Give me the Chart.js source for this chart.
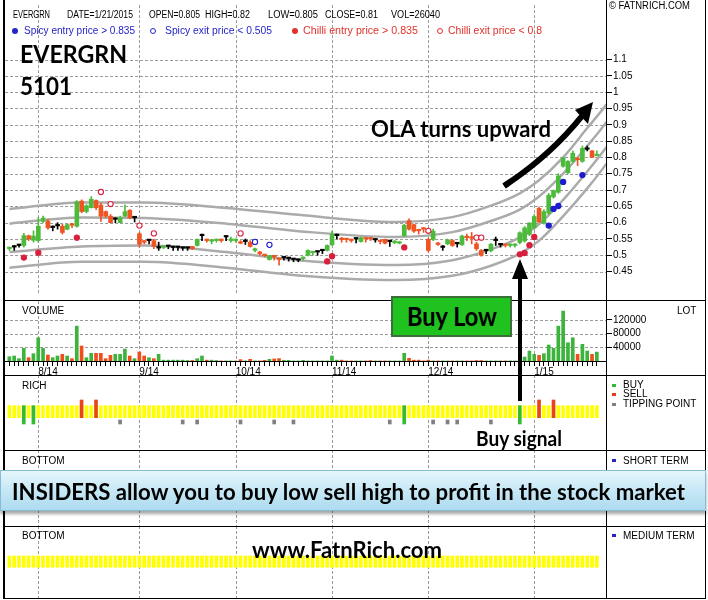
<!DOCTYPE html>
<html>
<head>
<meta charset="utf-8">
<title>EVERGRN 5101</title>
<script src="https://cdn.jsdelivr.net/npm/chart.js@4.4.1/dist/chart.umd.min.js"></script>
<style>
  html, body { margin: 0; padding: 0; background: #fff; }
  #wrap { position: relative; width: 708px; height: 600px; overflow: hidden; font-family: "Liberation Sans", Arial, sans-serif; }
  .pane { position: absolute; left: 0; width: 708px; }
  .pane canvas { display: block; }
  .ln { position: absolute; background: #000; z-index: 3; }
  .t { position: absolute; white-space: nowrap; font-size: 10px; line-height: 12px; color: #000; transform-origin: 0 50%; z-index: 6; }
  .big { font-family: Lato, "Open Sans", sans-serif; font-weight: 700; }
  .blue { color: #2424c8; }
  .red { color: #e0322a; }
  .dot { position: absolute; width: 6px; height: 6px; border-radius: 50%; box-sizing: border-box; z-index: 6; }
  .sq { position: absolute; width: 4px; height: 3px; z-index: 6; }
  #buylow { position: absolute; left: 391px; top: 296px; width: 117px; height: 37px; background: #1fc21f; border: 2px solid #3b6e3b; z-index: 7; }
  #banner { position: absolute; left: 0; top: 470px; width: 704px; height: 39px; border: 1px solid #86bcd4;
            background: linear-gradient(#e6f6fc 0%, #c9e9f6 45%, #addbef 100%); box-shadow: 0 3px 3px rgba(0,0,0,0.35); z-index: 7; }
  svg { position: absolute; left: 0; top: 0; z-index: 8; }
</style>
</head>
<body>
<div id="wrap">
  <div class="pane" style="top:0;height:300px"><canvas id="cPrice" width="708" height="300"></canvas></div>
  <div class="pane" style="top:300px;height:75px"><canvas id="cVol" width="708" height="75"></canvas></div>
  <div class="pane" style="top:375px;height:75px"><canvas id="cRich" width="708" height="75"></canvas></div>
  <div class="pane" style="top:450px;height:76px"><canvas id="cShort" width="708" height="76"></canvas></div>
  <div class="pane" style="top:526px;height:72px"><canvas id="cMed" width="708" height="72"></canvas></div>

  <!-- frame -->
  <div class="ln" style="left:3px;top:0;width:2px;height:599px"></div>
  <div class="ln" style="left:705px;top:0;width:1px;height:599px"></div>
  <div class="ln" style="left:606px;top:0;width:1px;height:599px"></div>
  <div class="ln" style="left:3px;top:300px;width:703px;height:1px"></div>
  <div class="ln" style="left:3px;top:375px;width:703px;height:1px"></div>
  <div class="ln" style="left:3px;top:450px;width:703px;height:1px"></div>
  <div class="ln" style="left:3px;top:526px;width:703px;height:1px"></div>
  <div class="ln" style="left:3px;top:598px;width:703px;height:1px"></div>

  <!-- header -->
  <div class="t" style="left:13px;top:9px" data-w="37">EVERGRN</div>
  <div class="t" style="left:67px;top:9px" data-w="66">DATE=1/21/2015</div>
  <div class="t" style="left:149px;top:9px" data-w="51">OPEN=0.805</div>
  <div class="t" style="left:205px;top:9px" data-w="45">HIGH=0.82</div>
  <div class="t" style="left:268px;top:9px" data-w="50">LOW=0.805</div>
  <div class="t" style="left:325px;top:9px" data-w="53">CLOSE=0.81</div>
  <div class="t" style="left:391px;top:9px" data-w="49">VOL=26040</div>
  <div class="t" style="left:609px;top:0px" data-w="81">&copy; FATNRICH.COM</div>

  <div class="dot" style="left:12px;top:28px;background:#2424c8"></div>
  <div class="t blue" style="left:24px;top:25px" data-w="111">Spicy entry price &gt; 0.835</div>
  <div class="dot" style="left:150px;top:28px;border:1px solid #2424c8;background:#fff"></div>
  <div class="t blue" style="left:165px;top:25px" data-w="107">Spicy exit price &lt; 0.505</div>
  <div class="dot" style="left:292px;top:28px;background:#e0322a"></div>
  <div class="t red" style="left:303px;top:25px" data-w="115">Chilli entry price &gt; 0.835</div>
  <div class="dot" style="left:437px;top:28px;border:1px solid #e0322a;background:#fff"></div>
  <div class="t red" style="left:448px;top:25px" data-w="94">Chilli exit price &lt; 0.8</div>

  <!-- panel labels -->
  <div class="t" style="left:22px;top:305px">VOLUME</div>
  <div class="t" style="left:677px;top:305px">LOT</div>
  <div class="t" style="left:22px;top:380px">RICH</div>
  <div class="sq" style="left:612px;top:384px;background:#33bb33"></div>
  <div class="t" style="left:623px;top:379px">BUY</div>
  <div class="sq" style="left:612px;top:393px;background:#e83a1a"></div>
  <div class="t" style="left:623px;top:388px">SELL</div>
  <div class="sq" style="left:612px;top:403px;background:#808080"></div>
  <div class="t" style="left:623px;top:398px">TIPPING POINT</div>
  <div class="t" style="left:22px;top:455px">BOTTOM</div>
  <div class="sq" style="left:612px;top:459px;background:#2424c8"></div>
  <div class="t" style="left:623px;top:455px">SHORT TERM</div>
  <div class="t" style="left:22px;top:530px">BOTTOM</div>
  <div class="sq" style="left:612px;top:534px;background:#2424c8"></div>
  <div class="t" style="left:623px;top:530px">MEDIUM TERM</div>

  <!-- annotations -->
  <div class="t big" style="left:20px;top:41px;font-size:25px;line-height:25px" data-w="107">EVERGRN</div>
  <div class="t big" style="left:20px;top:73px;font-size:25px;line-height:25px" data-w="52">5101</div>
  <div class="t big" style="left:371px;top:118px;font-size:22px;line-height:22px" data-w="180">OLA turns upward</div>
  <div id="buylow"><div class="t big" style="left:14px;top:5px;font-size:26px;line-height:26px" data-w="90">Buy Low</div></div>
  <div class="t big" style="left:476px;top:427px;font-size:21px;line-height:21px" data-w="86">Buy signal</div>
  <div id="banner"><div class="t big" style="left:11px;top:9px;font-size:23px;line-height:23px" data-w="673">INSIDERS allow you to buy low sell high to profit in the stock market</div></div>
  <div class="t big" style="left:252px;top:539px;font-size:22px;line-height:22px" data-w="190">www.FatnRich.com</div>

  <svg width="708" height="600">
    <path d="M504,186 Q550,156 582,116" stroke="#000" stroke-width="6" fill="none"/>
    <polygon points="593,102 575,110 588,124" fill="#000"/>
    <line x1="520" y1="401" x2="520" y2="276" stroke="#000" stroke-width="4"/>
    <polygon points="520,259 512,279 528,279" fill="#000"/>
  </svg>
</div>

<script>
// month gridlines / labels (trading-day index of first session of each month)
const monthLabels = ['8/14', '9/14', '10/14', '11/14', '12/14', '1/15'];
const monthStarts = [6, 27, 47, 67, 87, 109];

// daily prices, 24 Jul 2014 .. 21 Jan 2015
const opens = [
  .52, .525, .53, .53, .56, .546, .545, .604, .604, .585,
  .59, .589, .58, .597, .589, .666, .634, .646, .668, .654,
  .634, .62, .61, .60, .62, .638, .615, .566, .545, .545,
  .545, .522, .524, .527, .524, .524, .522, .522, .527, .53,
  .56, .549, .543, .545, .548, .556, .545, .545, .54, .542,
  .54, .515, .51, .502, .487, .497, .49, .492, .49, .487,
  .485, .49, .50, .508, .51, .514, .515, .532, .56, .55,
  .55, .547, .55, .542, .552, .553, .547, .545, .549, .542,
  .539, .537, .56, .606, .594, .578, .582, .549, .549, .537,
  .524, .535, .545, .535, .532, .557, .555, .535, .515, .514,
  .514, .545, .532, .532, .53, .53, .539, .544, .564, .584,
  .644, .599, .629, .679, .693, .773, .753, .788, .795, .788,
  .825, .82, .805
];
const highs = [
  .525, .53, .532, .567, .562, .575, .616, .62, .61, .59,
  .60, .595, .596, .598, .668, .67, .655, .68, .67, .66,
  .636, .625, .615, .62, .655, .64, .617, .57, .545, .545,
  .55, .54, .53, .53, .525, .525, .524, .524, .527, .55,
  .565, .55, .548, .55, .55, .56, .556, .55, .545, .55,
  .545, .522, .512, .503, .50, .50, .49, .495, .49, .49,
  .487, .495, .517, .512, .512, .515, .532, .574, .565, .555,
  .552, .55, .553, .556, .555, .555, .55, .545, .55, .545,
  .545, .542, .595, .612, .596, .58, .585, .552, .58, .54,
  .53, .55, .548, .54, .562, .565, .57, .54, .518, .517,
  .536, .556, .535, .535, .535, .535, .572, .588, .60, .625,
  .648, .64, .69, .70, .75, .80, .79, .82, .80, .835,
  .835, .822, .82
];
const lows = [
  .515, .515, .525, .525, .545, .54, .54, .60, .58, .575,
  .58, .565, .578, .585, .586, .63, .63, .645, .64, .604,
  .615, .60, .60, .60, .618, .612, .602, .525, .535, .535,
  .52, .515, .52, .52, .515, .515, .515, .515, .518, .528,
  .545, .54, .535, .54, .54, .545, .54, .54, .535, .533,
  .525, .51, .50, .495, .485, .485, .47, .485, .482, .48,
  .48, .485, .498, .50, .50, .505, .513, .53, .55, .54,
  .54, .54, .538, .54, .54, .545, .54, .535, .535, .527,
  .535, .535, .558, .577, .57, .565, .57, .51, .545, .53,
  .515, .532, .527, .525, .53, .545, .535, .515, .497, .505,
  .51, .53, .525, .525, .525, .525, .535, .54, .56, .58,
  .60, .595, .625, .675, .69, .77, .75, .785, .775, .785,
  .82, .80, .805
];
const closes = [
  .525, .525, .53, .56, .55, .559, .589, .614, .584, .585,
  .59, .57, .594, .592, .664, .634, .652, .672, .646, .62,
  .62, .60, .61, .615, .634, .615, .615, .534, .54, .545,
  .527, .522, .527, .527, .524, .524, .522, .522, .52, .549,
  .56, .545, .546, .549, .545, .556, .55, .548, .537, .542,
  .527, .52, .505, .499, .499, .495, .487, .492, .49, .487,
  .485, .493, .515, .51, .51, .514, .53, .564, .56, .548,
  .548, .545, .55, .554, .55, .55, .547, .542, .537, .542,
  .542, .54, .592, .58, .574, .575, .58, .515, .574, .533,
  .524, .547, .53, .535, .559, .554, .552, .52, .50, .514,
  .534, .545, .532, .53, .532, .532, .569, .584, .599, .619,
  .602, .634, .684, .698, .743, .798, .788, .813, .793, .828,
  .825, .80, .81
];
const volumes = [
  12500, 14600, 6800, 37000, 9700, 21400, 68000, 37000, 17500, 9700,
  14600, 19500, 14600, 6800, 102000, 43800, 9700, 22400, 22400, 22400,
  6800, 16500, 19500, 19500, 35000, 14600, 6800, 26300, 14600, 9700,
  6800, 19500, 2500, 2500, 2500, 2500, 2500, 1500, 1500, 6800,
  14600, 2500, 2500, 1500, 300, 300, 300, 300, 4000, 300,
  5000, 300, 300, 2000, 5000, 6000, 7000, 2000, 2000, 300,
  300, 2000, 300, 300, 300, 300, 300, 14600, 2500, 2500,
  300, 300, 300, 300, 300, 1500, 300, 300, 300, 300,
  300, 300, 22400, 7800, 2500, 2500, 300, 2500, 300, 300,
  300, 300, 300, 300, 300, 300, 300, 1500, 1500, 300,
  300, 300, 300, 300, 300, 300, 8000, 11700, 29200, 19500,
  16500, 21400, 46700, 37000, 102000, 146000, 53500, 68000, 19500, 48700,
  29200, 19500, 26040
];

// axis tick labels
const priceTicks = ['0.45', '0.5', '0.55', '0.6', '0.65', '0.7', '0.75', '0.8', '0.85', '0.9', '0.95', '1', '1.05', '1.1'];
const volumeTicks = [40000, 80000, 120000];

// OLA envelope, read at a few sessions (extends past the last bar)
const bandIdx =     [0,    15,   28,   45,   60,   80,   92,   100,  106,  110,  115,  120,  124,  131.5];
const bandOuterHi = [.642, .662, .662, .645, .624, .602, .617, .652, .69,  .73,  .80,  .89,  .963, 1.133];
const bandInnerHi = [.597, .616, .614, .597, .574, .556, .571, .605, .64,  .68,  .75,  .835, .909, 1.085];
const bandInnerLo = [.51,  .527, .53,  .51,  .485, .47,  .485, .518, .555, .595, .67,  .757, .832, .999];
const bandOuterLo = [.462, .48,  .48,  .462, .438, .424, .437, .468, .505, .545, .62,  .705, .781, .951];

// signal markers
const spicyEntryIdx = [112, 113, 114, 115, 119];
const spicyEntryVal = [.591, .642, .651, .725, .746];
const spicyExitIdx = [51, 54];
const spicyExitVal = [.541, .532];
const chilliEntryIdx = [3, 6, 14, 66, 67, 82, 106, 107, 108, 109];
const chilliEntryVal = [.493, .508, .554, .481, .497, .524, .503, .507, .531, .556];
const chilliExitIdx = [19, 21, 27, 30, 48, 87, 97, 98];
const chilliExitVal = [.694, .657, .591, .567, .567, .575, .554, .554];

// RICH panel signals
const richBuy = [3, 5, 82, 106];
const richSell = [15, 18, 110, 113];
const richTip = [23, 36, 39, 48, 55, 59, 79, 88, 91, 93, 100];

Chart.defaults.font.family = '"Liberation Sans", Arial, sans-serif';
Chart.defaults.font.size = 10;
Chart.defaults.color = '#000';
Chart.defaults.animation = false;
Chart.defaults.plugins.legend.display = false;
Chart.defaults.plugins.tooltip.enabled = false;

const X_MIN = -0.9, X_MAX = 123.9;
const GRID = '#9a9a9a';
const UP = '#4cbb3c', DOWN = '#ee5522', FLAT = '#000';
const BLUE = '#1c1cd0', RED = '#d8203c';
const dayIdx = closes.map((c, i) => i);
const candleColor = closes.map((c, i) => c > opens[i] ? UP : (c < opens[i] ? DOWN : FLAT));
const volColor = closes.map((c, i) => c < opens[i] ? '#ee4e1e' : '#3cb43c');

// dashed grid behind everything: month lines on x, tick levels on y (positions from the chart's scales)
const dashGrid = {
  id: 'dashGrid',
  afterDraw(chart, args, opts) {
    const { ctx, chartArea: a, scales } = chart;
    ctx.save();
    ctx.globalCompositeOperation = 'destination-over';
    ctx.strokeStyle = GRID;
    ctx.lineWidth = 1;
    ctx.setLineDash([3, 2]);
    ctx.beginPath();
    monthStarts.forEach(m => {
      const x = Math.round(scales.x.getPixelForValue(m)) + 0.5;
      ctx.moveTo(x, a.top); ctx.lineTo(x, a.bottom);
    });
    (opts.yTicks || []).forEach(v => {
      const y = Math.round(scales.y.getPixelForValue(v)) + 0.5;
      ctx.moveTo(a.left, y); ctx.lineTo(a.right, y);
    });
    ctx.stroke();
    ctx.restore();
  }
};

function monthX() {
  return {
    type: 'linear', min: X_MIN, max: X_MAX, offset: false,
    grid: { offset: false, drawOnChartArea: false, drawTicks: false },
    border: { display: false },
    ticks: { display: false },
    afterBuildTicks: s => { s.ticks = monthStarts.map(v => ({ value: v })); },
    afterFit: s => { s.height = 0; s.paddingLeft = 0; s.paddingRight = 0; }
  };
}
function blankY(max) {
  return {
    position: 'right', min: 0, max: max,
    ticks: { display: false }, grid: { display: false }, border: { display: false },
    afterFit: s => { s.width = 102; s.paddingTop = 0; s.paddingBottom = 0; }
  };
}
function band(vals) {
  return {
    type: 'line', order: 10, clip: false,
    data: bandIdx.map((x, k) => ({ x: x, y: vals[k] })),
    borderColor: '#ababab', borderWidth: 2.5, pointRadius: 0,
    cubicInterpolationMode: 'monotone'
  };
}
function marker(idx, vals, color, filled) {
  return {
    type: 'line', order: 1, showLine: false,
    data: idx.map((x, k) => ({ x: x, y: vals[k] })),
    pointRadius: 2.6, pointBorderWidth: 1.1,
    pointBackgroundColor: filled ? color : '#fff', pointBorderColor: color
  };
}

// price panel: 1.1 sits at y=57, 0.05 per 16.77px
new Chart(document.getElementById('cPrice'), {
  type: 'bar',
  plugins: [dashGrid],
  data: { datasets: [
    band(bandOuterHi), band(bandInnerHi), band(bandInnerLo), band(bandOuterLo),
    { type: 'bar', order: 5, grouped: false, barThickness: 1,
      data: dayIdx.map(i => ({ x: i, y: [lows[i], highs[i]] })), backgroundColor: candleColor },
    { type: 'bar', order: 4, grouped: false, barThickness: 4, minBarLength: 1.5,
      data: dayIdx.map(i => ({ x: i, y: [opens[i], closes[i]] })), backgroundColor: candleColor },
    marker(spicyEntryIdx, spicyEntryVal, BLUE, true),
    marker(spicyExitIdx, spicyExitVal, BLUE, false),
    marker(chilliEntryIdx, chilliEntryVal, RED, true),
    marker(chilliExitIdx, chilliExitVal, RED, false)
  ]},
  options: {
    responsive: false,
    layout: { padding: { left: 5, right: 0, top: 1, bottom: 1 } },
    plugins: { dashGrid: { yTicks: priceTicks.map(Number) } },
    scales: {
      x: monthX(),
      y: {
        type: 'linear', position: 'right', min: 0.3785, max: 1.267,
        afterBuildTicks: s => { s.ticks = priceTicks.map(t => ({ value: parseFloat(t) })); },
        ticks: { padding: 1, callback: (v, i) => priceTicks[i] },
        grid: { drawOnChartArea: false, tickColor: '#000', tickLength: 6 },
        border: { display: false },
        afterFit: s => { s.width = 102; s.paddingTop = 0; s.paddingBottom = 0; }
      }
    }
  }
});

// volume panel
new Chart(document.getElementById('cVol'), {
  type: 'bar',
  plugins: [dashGrid],
  data: { datasets: [
    { grouped: false, barThickness: 3, data: dayIdx.map(i => ({ x: i, y: volumes[i] })), backgroundColor: volColor }
  ]},
  options: {
    responsive: false,
    layout: { padding: { left: 5, right: 0, top: 1, bottom: 0 } },
    plugins: { dashGrid: { yTicks: volumeTicks } },
    scales: {
      x: {
        type: 'linear', min: X_MIN, max: X_MAX, offset: false,
        afterBuildTicks: s => { s.ticks = dayIdx.map(i => ({ value: i })); },
        ticks: {
          autoSkip: false, maxRotation: 0, minRotation: 0, align: 'start', padding: 0,
          callback: v => { const k = monthStarts.indexOf(v); return k < 0 ? '' : monthLabels[k]; }
        },
        grid: { offset: false, drawOnChartArea: false, tickColor: '#000', tickLength: 5 },
        border: { display: true, color: '#000', width: 1 },
        afterFit: s => { s.height = 14; s.paddingLeft = 0; s.paddingRight = 0; }
      },
      y: {
        position: 'right', min: 0, max: 175500,
        afterBuildTicks: s => { s.ticks = volumeTicks.map(v => ({ value: v })); },
        ticks: { padding: 1, callback: v => String(v) },
        grid: { drawOnChartArea: false, tickColor: '#000', tickLength: 6 },
        border: { display: false },
        afterFit: s => { s.width = 102; s.paddingTop = 0; s.paddingBottom = 0; }
      }
    }
  }
});

// RICH panel (0..75 from the panel bottom)
const RICH_BAR = [32.3, 44.3], RICH_BUY = [26, 44.3], RICH_SELL = [32.3, 50], RICH_TIP = [26, 30];
new Chart(document.getElementById('cRich'), {
  type: 'bar',
  plugins: [dashGrid],
  data: { datasets: [
    { order: 3, grouped: false, barThickness: 3, backgroundColor: '#ffff00',
      data: dayIdx.map(i => ({ x: i, y: RICH_BAR })) },
    { order: 2, grouped: false, barThickness: 3, backgroundColor: '#33bb33',
      data: richBuy.map(i => ({ x: i, y: RICH_BUY })) },
    { order: 2, grouped: false, barThickness: 3, backgroundColor: '#e8461a',
      data: richSell.map(i => ({ x: i, y: RICH_SELL })) },
    { order: 2, grouped: false, barThickness: 3, backgroundColor: '#808080',
      data: richTip.map(i => ({ x: i, y: RICH_TIP })) }
  ]},
  options: {
    responsive: false,
    layout: { padding: { left: 5, right: 0, top: 0, bottom: 0 } },
    scales: { x: monthX(), y: blankY(75) }
  }
});

// BOTTOM short term (covered by the banner)
new Chart(document.getElementById('cShort'), {
  type: 'bar',
  plugins: [dashGrid],
  data: { datasets: [ { data: [] } ] },
  options: {
    responsive: false,
    layout: { padding: { left: 5, right: 0, top: 0, bottom: 0 } },
    scales: { x: monthX(), y: blankY(76) }
  }
});

// BOTTOM medium term
const MED_BAR = [30.7, 42];
new Chart(document.getElementById('cMed'), {
  type: 'bar',
  plugins: [dashGrid],
  data: { datasets: [
    { grouped: false, barThickness: 3, backgroundColor: '#ffff00',
      data: dayIdx.map(i => ({ x: i, y: MED_BAR })) }
  ]},
  options: {
    responsive: false,
    layout: { padding: { left: 5, right: 0, top: 0, bottom: 0 } },
    scales: { x: monthX(), y: blankY(72) }
  }
});

// squeeze overlay texts to the widths in the picture
document.querySelectorAll('[data-w]').forEach(el => {
  const w = el.getBoundingClientRect().width;
  if (w > 0) el.style.transform = 'scaleX(' + (parseFloat(el.dataset.w) / w) + ')';
});
</script>
</body>
</html>
